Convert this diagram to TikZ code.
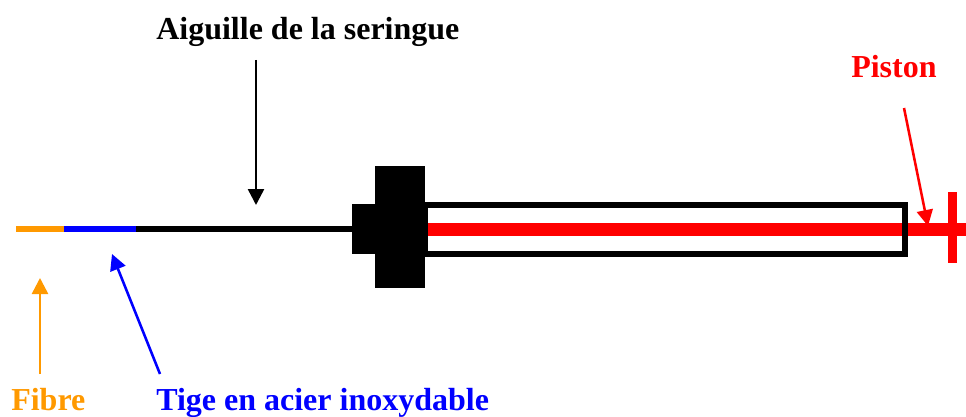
\documentclass[tikz,border=0pt]{standalone}
\usepackage{xcolor}
\usepackage{fontspec}
\setmainfont{Liberation Serif}
\usetikzlibrary{arrows.meta}
\definecolor{fibreorange}{RGB}{255,153,0}

\tikzset{
  label text/.style={anchor=base west, inner sep=0pt, font=\fontsize{24}{28}\selectfont\bfseries},
  callout/.style={line width=1.9pt, -{Triangle[width=12pt,length=12pt]}}
}

\begin{document}
\begin{tikzpicture}[x=0.75pt, y=-0.75pt]

    \useasboundingbox (0, 0) rectangle (966, 417);

    % needle
    \draw [fibreorange, line width=4.5pt] (16, 229) -- (64, 229);
    \draw [blue, line width=4.5pt] (64, 229) -- (136, 229);
    \draw [black, line width=4.5pt] (136, 229) -- (352, 229);

    % piston
    \fill [red] (425, 223) rectangle (966, 235.5);
    \fill [red] (948, 192) rectangle (957, 263);

    % body
    \draw [black, line width=4.5pt] (425, 205) rectangle (904.5, 253.5);
    \fill [black] (352, 204) rectangle (375, 254);
    \fill [black] (375, 166) rectangle (425, 288);
    \fill [black] (425, 202) rectangle (428, 256.5);

    \node (aiguille) [label text, black] at (156, 39.5) {Aiguille de la seringue};
    \node (piston) [label text, red] at (851, 77.5) {Piston};
    \node (fibre) [label text, fibreorange] at (11, 410) {Fibre};
    \node (tige) [label text, blue] at (156, 410) {Tige en acier inoxydable};

    \coordinate (aiguille start) at (256, 60);
    \coordinate (aiguille tip) at (256, 205);
    \coordinate (piston start) at (904, 108);
    \coordinate (piston tip) at (928, 226);
    \coordinate (fibre start) at (40, 374);
    \coordinate (fibre tip) at (40, 278);
    \coordinate (tige start) at (160, 374);
    \coordinate (tige tip) at (112, 254);

    \draw [callout, black] (aiguille start) -- (aiguille tip);
    \draw [callout, red] (piston start) -- (piston tip);
    \draw [callout, fibreorange] (fibre start) -- (fibre tip);
    \draw [callout, blue] (tige start) -- (tige tip);

\end{tikzpicture}
\end{document}
